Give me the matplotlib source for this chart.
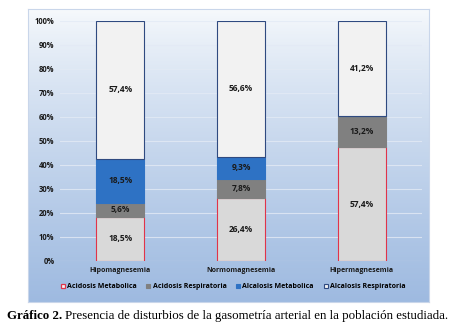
import matplotlib.pyplot as plt
import numpy as np
from matplotlib.patches import Patch

categorias = ['Hipomagnesemia', 'Normomagnesemia', 'Hipermagnesemia']
series = ['Acidosis Metabolica', 'Acidosis Respiratoria', 'Alcalosis Metabolica', 'Alcalosis Respiratoria']

# alturas como se ven en el grafico (%)
acidosis_met = [18.5, 26.4, 47.4]
acidosis_resp = [5.6, 7.8, 13.2]
alcalosis_met = [18.5, 9.3, 0.0]
alcalosis_resp = [57.4, 56.6, 39.4]

# etiquetas tal como aparecen
etq_acidosis_met = ['18,5%', '26,4%', '57,4%']
etq_acidosis_resp = ['5,6%', '7,8%', '13,2%']
etq_alcalosis_met = ['18,5%', '9,3%', '']
etq_alcalosis_resp = ['57,4%', '56,6%', '41,2%']

yticks = [0, 10, 20, 30, 40, 50, 60, 70, 80, 90, 100]

fill = ['#D9D9D9', '#808080', '#2E72C4', '#F2F2F2']
edge = ['#E0344A', '#808080', '#2E72C4', '#2F4A80']

fnt = 'Open Sans'
plt.rcParams['font.family'] = [fnt, 'DejaVu Sans']

fig = plt.figure(figsize=(4.54, 3.27), dpi=100)

# fondo degradado del area del grafico
bg = fig.add_axes([28 / 454, 1 - 302 / 327, 401 / 454, 293 / 327])
grad = np.linspace(0, 1, 256).reshape(-1, 1) ** 0.8
top = np.array([0.97, 0.98, 0.99])
bot = np.array([0.62, 0.73, 0.88])
img = top + (bot - top) * grad[:, :, None]
bg.imshow(img, aspect='auto', extent=[0, 1, 0, 1])
bg.set_xticks([])
bg.set_yticks([])
for s in bg.spines.values():
    s.set_color('#C9D6EA')
    s.set_linewidth(0.8)

ax = fig.add_axes([60 / 454, 1 - 261 / 327, 362 / 454, 240 / 327])
ax.patch.set_alpha(0)
x = np.arange(len(categorias))
datos = [acidosis_met, acidosis_resp, alcalosis_met, alcalosis_resp]
etqs = [etq_acidosis_met, etq_acidosis_resp, etq_alcalosis_met, etq_alcalosis_resp]
base = np.zeros(len(categorias))
for i, vals in enumerate(datos):
    vals = np.array(vals)
    ax.bar(x, vals, 0.4, bottom=base, color=fill[i], edgecolor=edge[i], linewidth=0.8, zorder=3)
    for j in range(len(x)):
        if etqs[i][j]:
            ax.text(x[j], base[j] + vals[j] / 2, etqs[i][j], ha='center', va='center',
                    fontsize=6, fontweight='bold', color='#1A1A1A', zorder=4)
    base = base + vals

ax.set_xlim(-0.5, 2.5)
ax.set_ylim(0, 100)
ax.set_yticks(yticks)
ax.set_yticklabels([f'{v}%' for v in yticks], fontsize=5.5, fontweight='bold', color='#1A1A1A')
ax.set_xticks(x)
ax.set_xticklabels(categorias, fontsize=5, fontweight='bold', color='#1A1A1A')
ax.tick_params(length=0, pad=4)
ax.grid(axis='y', color='#E3EAF5', linewidth=0.8, alpha=0.8, zorder=0)
for s in ax.spines.values():
    s.set_visible(False)

handles = [Patch(facecolor=fill[i], edgecolor=edge[i], linewidth=0.8) for i in range(4)]
handles[0] = Patch(facecolor='#F2F2F2', edgecolor='#E0344A', linewidth=0.9)
fig.legend(handles, series, loc='center', bbox_to_anchor=(233 / 454, 1 - 287 / 327), ncol=4,
           frameon=False, prop={'family': fnt, 'weight': 'bold', 'size': 5},
           handlelength=0.6, handleheight=0.6, handletextpad=0.3, columnspacing=1.4)

t1 = fig.text(7 / 454, 1 - 316 / 327, 'Gráfico 2.', fontsize=9.3, fontweight='bold',
              family='Liberation Serif', va='center', ha='left')
fig.canvas.draw()
bb = t1.get_window_extent()
fig.text(bb.x1 / fig.bbox.width + 0.007, 1 - 316 / 327,
         'Presencia de disturbios de la gasometría arterial en la población estudiada.',
         fontsize=9.3, family='Liberation Serif', va='center', ha='left')

fig.savefig('out.png', dpi=100)
